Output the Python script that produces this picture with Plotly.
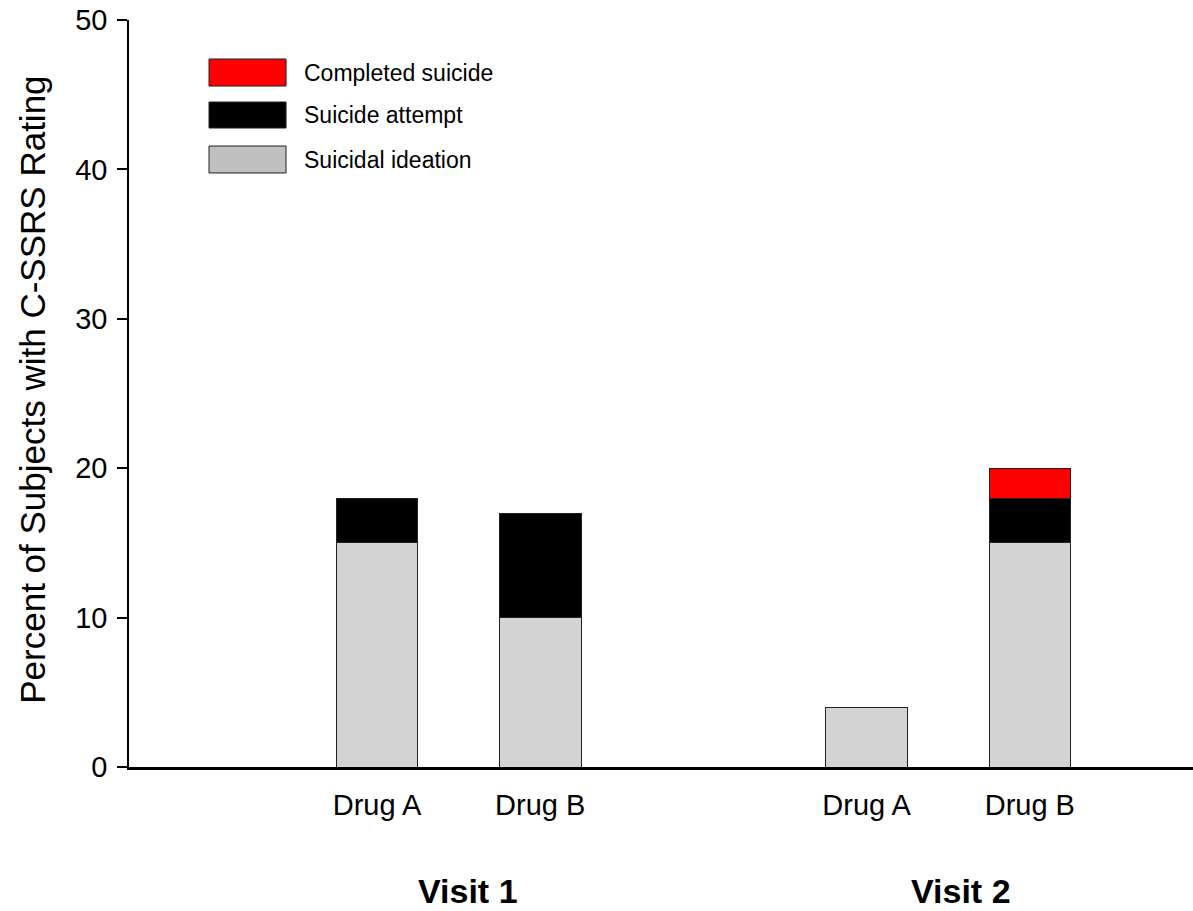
import plotly.graph_objects as go

# Data
drugs = ["Drug A", "Drug B", "Drug A", "Drug B"]
positions = [1, 2, 4, 5]
visits = ["Visit 1", "Visit 2"]
visit_centers = [1.5, 4.5]
ideation = [15, 10, 4, 15]
attempt = [3, 7, None, 3]
completed = [None, None, None, 2]

FONT = "Liberation Sans, Arial, sans-serif"
line = dict(color="#222222", width=1)

fig = go.Figure()
fig.add_trace(go.Bar(x=positions, y=ideation, width=0.5, name="Suicidal ideation",
                     marker=dict(color="#d3d3d3", line=line)))
fig.add_trace(go.Bar(x=positions, y=attempt, width=0.5, name="Suicide attempt",
                     marker=dict(color="#000000", line=line)))
fig.add_trace(go.Bar(x=positions, y=completed, width=0.5, name="Completed suicide",
                     marker=dict(color="#ff0000", line=line)))

fig.update_layout(
    barmode="stack",
    width=1193, height=911,
    margin=dict(l=129, r=0, t=20, b=144, autoexpand=False),
    plot_bgcolor="white", paper_bgcolor="white",
    showlegend=False,
    font=dict(family=FONT, color="black"),
)
fig.update_xaxes(
    range=[-0.52, 6.0], tickvals=positions, ticktext=drugs, automargin=False,
    showline=True, linecolor="black", linewidth=2.5, ticks="", showgrid=False,
    zeroline=False, tickfont=dict(size=29, family=FONT), ticklabelstandoff=10,
)
fig.update_yaxes(
    range=[0, 50], dtick=10, showline=True, linecolor="black", linewidth=1.5,
    ticks="outside", ticklen=10, tickwidth=1.5, tickcolor="black", showgrid=False,
    zeroline=False, tickfont=dict(size=29, family=FONT), ticklabelstandoff=4,
    ticklabeloverflow="allow", automargin=False,
)

# Y axis title
fig.add_annotation(x=0, y=0.505, xref="paper", yref="paper", xshift=-96,
                   text="Percent of Subjects with C-SSRS Rating", textangle=-90,
                   showarrow=False, xanchor="center", yanchor="middle",
                   font=dict(size=35, family=FONT, color="black"))

# Visit group labels
for v, c, dx in zip(visits, visit_centers, [9, 13]):
    fig.add_annotation(x=c, y=-0.166, xref="x", yref="paper", text=f"<b>{v}</b>",
                       showarrow=False, yanchor="middle", xanchor="center", xshift=dx,
                       font=dict(size=34, family=FONT, color="black"))

# Custom legend (large swatches)
legend_items = [("Completed suicide", "#ff0000", 0.9478, 0.9116),
                ("Suicide attempt", "#000000", 0.8902, 0.8554),
                ("Suicidal ideation", "#c0c0c0", 0.8313, 0.7952)]
for label, color, ytop, ybot in legend_items:
    fig.add_shape(type="rect", xref="paper", yref="paper", x0=0.0752, x1=0.1476,
                  y0=ybot, y1=ytop, fillcolor=color, line=dict(color="#222222", width=1))
    fig.add_annotation(x=0.1626, y=(ytop + ybot) / 2, xref="paper", yref="paper",
                       text=label, showarrow=False, xanchor="left", yanchor="middle",
                       font=dict(size=23, family=FONT, color="black"))

fig.write_html("out.html", config={"displayModeBar": False},
               post_script="document.body.style.margin='0';document.body.style.overflow='hidden';")
